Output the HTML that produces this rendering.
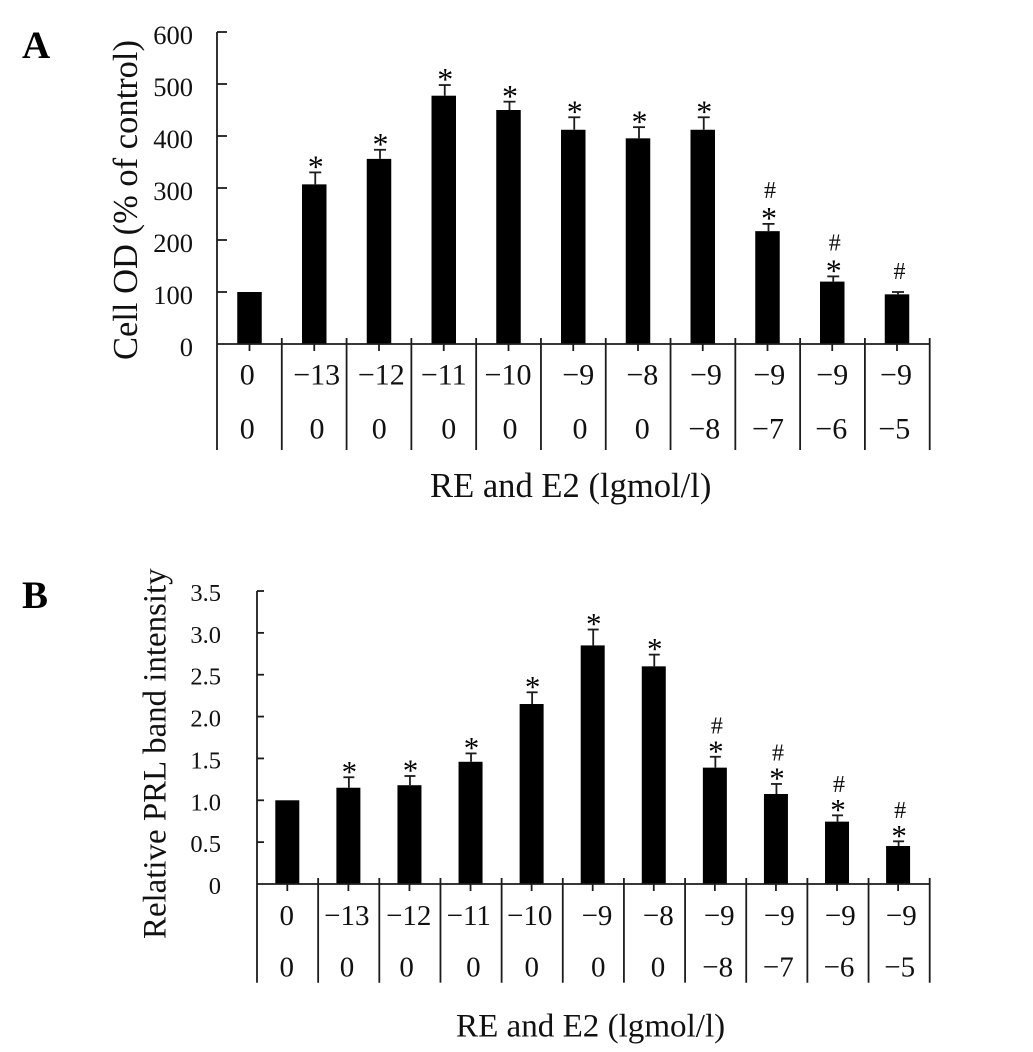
<!DOCTYPE html>
<html lang="en">
<head>
<meta charset="utf-8">
<title>Cell OD and relative PRL band intensity</title>
<style>
html,body{margin:0;padding:0;background:#fff;}
svg{display:block;font-family:"Liberation Serif",serif;fill:#111;}
</style>
</head>
<body>
<svg id="figure" xmlns="http://www.w3.org/2000/svg" width="1033" height="1052" viewBox="0 0 1033 1052">
  <rect x="0" y="0" width="1033" height="1052" fill="#fff"/>
  <text x="22" y="58" font-size="39" font-weight="bold" fill="#000">A</text>
  <text x="22" y="608" font-size="39" font-weight="bold" fill="#000">B</text>
  <text transform="translate(137,360) rotate(-90)" font-size="34.5">Cell OD (% of control)</text>
  <text transform="translate(165.5,939) rotate(-90)" font-size="32.9">Relative PRL band intensity</text>
  <text x="430" y="497" font-size="34.6">RE and E2 (lgmol/l)</text>
  <text x="456" y="1036.5" font-size="33.1">RE and E2 (lgmol/l)</text>
</svg>
<script>
// Shared category rows
const reLabelsA = ["0","−13","−12","−11","−10","−9","−8","−9","−9","−9","−9"];
const e2LabelsA = ["0","0","0","0","0","0","0","−8","−7","−6","−5"];
const reLabelsB = ["0","−13","−12","−11","−10","−9","−8","−9","−9","−9","−9"];
const e2LabelsB = ["0","0","0","0","0","0","0","−8","−7","−6","−5"];

// Panel A data
const valuesA = [100,307,356,477.5,450,412,395.5,412,217,120,95.5];
const upperA = [100,330,373.5,498,466,436,417,436,231,130,100];
const starsA = [false,true,true,true,true,true,true,true,true,true,false];
const hashesA = [false,false,false,false,false,false,false,false,true,true,true];
const tickValuesA = [0,100,200,300,400,500,600];
const tickLabelsA = ["0","100","200","300","400","500","600"];

// Panel B data
const valuesB = [1,1.15,1.18,1.46,2.15,2.85,2.6,1.39,1.075,0.745,0.454];
const upperB = [1,1.275,1.29,1.56,2.29,3.04,2.74,1.52,1.195,0.82,0.51];
const starsB = [false,true,true,true,true,true,true,true,true,true,true];
const hashesB = [false,false,false,false,false,false,false,true,true,true,true];
const tickValuesB = [0,0.5,1,1.5,2,2.5,3,3.5];
const tickLabelsB = ["0","0.5","1.0","1.5","2.0","2.5","3.0","3.5"];

const NS = "http://www.w3.org/2000/svg";
const svg = document.getElementById("figure");
const INK = "#1c1c1c";

function make(tag, parent, attrs, text) {
  const el = document.createElementNS(NS, tag);
  for (const k in attrs) el.setAttribute(k, attrs[k]);
  if (text !== undefined) el.textContent = text;
  parent.appendChild(el);
  return el;
}
function line(parent, x1, y1, x2, y2) {
  return make("line", parent, {x1, y1, x2, y2, stroke: INK, "stroke-width": 1.8});
}

function drawPanel(p) {
  const n = p.values.length;
  const maxTick = p.tickValues[p.tickValues.length - 1];
  const yOf = v => p.y0 + (p.yTop - p.y0) * (v / maxTick);
  const xOf = i => p.firstCenter + p.step * i;
  const sepOf = i => p.xAxis + (p.xEnd - p.xAxis) * (i / n);

  const g = make("g", svg, {});
  
  

  // bars, error bars, significance marks
  p.values.forEach((v, i) => {
    const c = xOf(i);
    const bar = make("rect", g, {x: c - p.barW / 2, y: yOf(v), width: p.barW, height: p.y0 - yOf(v), fill: "#000"});
    
    

    const top = yOf(p.upper[i]);
    const ex = c + p.errDx;
    if (p.upper[i] > v) {
      const stem = line(g, ex, yOf(v), ex, top);
      
      
      const cap = line(g, ex - p.capW / 2, top, ex + p.capW / 2, top);
      
      
    }
    const starY = top - p.starGap;
    if (p.stars[i]) {
      const star = make("text", g, {x: ex + 0.5, y: starY + p.starSize * 0.52, "font-size": p.starSize, "text-anchor": "middle", fill: "#000"}, "*");
      
      
    }
    if (p.hashes[i]) {
      const hashY = p.stars[i] ? starY - p.hashGap : top - p.soloHashGap;
      const hash = make("text", g, {x: ex + 1.5, y: hashY + 8, "font-size": 24, "text-anchor": "middle"}, "#");
      
      
    }

    const tick = line(g, c, p.y0, c, p.y0 + 7);
    
    

    const re = make("text", g, {x: c + p.reNudge[i], y: p.row1, "font-size": p.catSize, "text-anchor": "middle"}, p.re[i]);
    
    
    const e2 = make("text", g, {x: c + p.e2Nudge[i], y: p.row2, "font-size": p.catSize, "text-anchor": "middle"}, p.e2[i]);
    
    
  });

  // axes
  const yAxis = line(g, p.xAxis, p.yTop, p.xAxis, p.sepBottom);
  
  
  const xAxis = line(g, p.xAxis, p.y0, p.xEnd, p.y0);
  
  

  for (let i = 1; i <= n; i++) {
    const s = line(g, sepOf(i), p.sepTop, sepOf(i), p.sepBottom);
    
    
  }

  p.tickValues.forEach((t, i) => {
    const y = yOf(t);
    if (t > 0) {
      const tk = line(g, p.xAxis, y, p.xAxis + p.yTickLen, y);
      
      
    }
    const lab = make("text", g, {x: p.tickRight, y: y + p.tickDy, "font-size": p.tickSize, "text-anchor": "end"}, p.tickLabels[i]);
    
    
  });
}

drawPanel({
  key: "panel-a", values: valuesA, upper: upperA, stars: starsA, hashes: hashesA,
  re: reLabelsA, e2: e2LabelsA, tickValues: tickValuesA, tickLabels: tickLabelsA,
  xAxis: 217, xEnd: 929.7, y0: 344, yTop: 32, firstCenter: 249.5, step: 64.75,
  barW: 24.5, capW: 12, errDx: 1, starGap: 11.5, hashGap: 22.5, soloHashGap: 21, starSize: 32,
  sepTop: 338, sepBottom: 450, row1: 384.5, row2: 438.5, catSize: 30,
  reNudge: [-2.2,2.4,2.3,0,-0.5,5,4.3,3.2,1.8,0,-1],
  e2Nudge: [-2.2,2.7,0.3,5,1.5,6.7,4.3,1.6,0.5,-1,-2.7],
  yTickLen: 10, tickRight: 193, tickDy: 12, tickSize: 26.5
});

drawPanel({
  key: "panel-b", values: valuesB, upper: upperB, stars: starsB, hashes: hashesB,
  re: reLabelsB, e2: e2LabelsB, tickValues: tickValuesB, tickLabels: tickLabelsB,
  xAxis: 257, xEnd: 929.7, y0: 884, yTop: 591, firstCenter: 287.3, step: 61.08,
  barW: 24, capW: 11, errDx: 0.5, starGap: 11.5, hashGap: 20, soloHashGap: 21, starSize: 31,
  sepTop: 878, sepBottom: 982.7, row1: 925, row2: 976.5, catSize: 29,
  reNudge: [-0.6,-1.6,-0.7,-1.8,-1.9,4.3,4.5,4.4,3.4,3.3,3.2],
  e2Nudge: [-0.6,-1.4,-2.8,2.8,0.1,5.6,4.2,2.8,2.4,2,1.6],
  yTickLen: 7, tickRight: 221, tickDy: 10, tickSize: 24.5
});
</script>
</body>
</html>
